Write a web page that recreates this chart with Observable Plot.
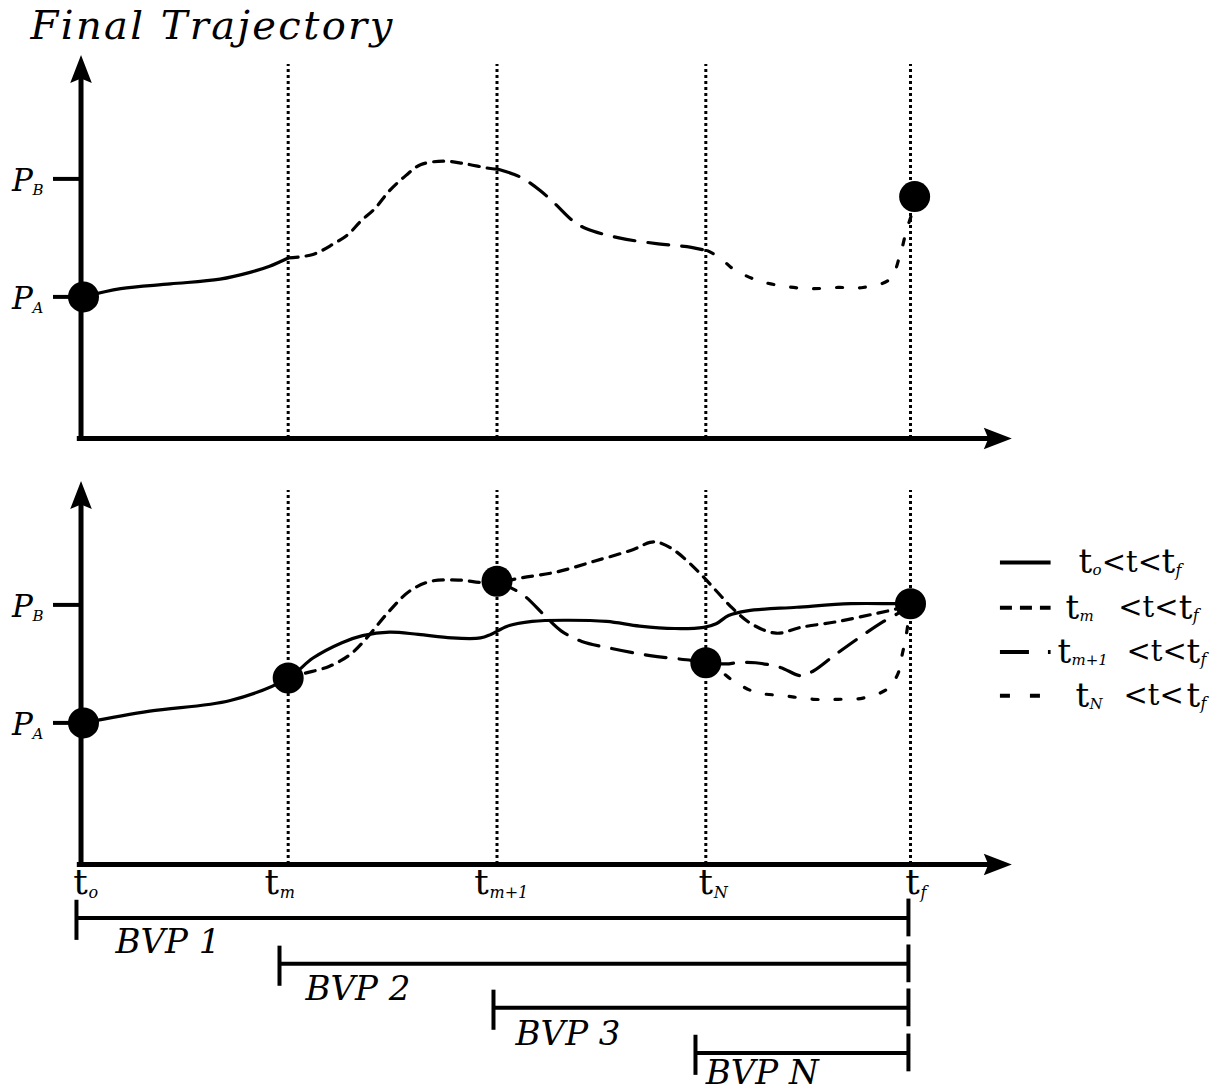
<!DOCTYPE html>
<html><head><meta charset="utf-8">
<script src="https://cdn.jsdelivr.net/npm/d3@7"></script>
<script src="https://cdn.jsdelivr.net/npm/@observablehq/plot@0.6"></script>
<style>
body{margin:0;background:#fff}
svg{display:block}
</style>
</head><body><div id="chart"></div>
<script>
// ---- data (t in units of the time grid, P in units where P_A = 1, P_B = 2) ----
const titleText = "Final Trajectory";
const panels = ["top", "bottom"];
const guideT = [0.99, 2.0, 3.01, 4.0];           // t_m, t_m+1, t_N, t_f guides
const axisT = -0.012;
const pTicks = [1, 2];
const pTickSub = ["A", "B"];
const tickLabelT = [-0.015, 0.91, 1.925, 3.01, 4.01];
const tickLabelSub = ["o", "m", "m+1", "N", "f"];

// top panel: final trajectory
const topFullT = [0, 0.18, 0.42, 0.66, 0.81, 0.90, 0.99];
const topFullP = [1.00, 1.07, 1.11, 1.15, 1.21, 1.26, 1.33];
const topTmT = [0.99, 1.11, 1.21, 1.28, 1.34, 1.41, 1.48, 1.56, 1.63, 1.74, 1.84, 1.96, 2.01];
const topTmP = [1.33, 1.36, 1.45, 1.53, 1.64, 1.75, 1.90, 2.03, 2.12, 2.15, 2.13, 2.09, 2.08];
const topTm1T = [2.01, 2.08, 2.13, 2.21, 2.28, 2.37, 2.43, 2.59, 2.78, 2.94, 3.02];
const topTm1P = [2.08, 2.04, 2.00, 1.90, 1.79, 1.64, 1.58, 1.50, 1.45, 1.42, 1.39];
const topTNT = [3.02, 3.08, 3.14, 3.26, 3.39, 3.52, 3.65, 3.77, 3.90, 3.95, 3.98, 4.01, 4.02];
const topTNP = [1.39, 1.33, 1.24, 1.14, 1.09, 1.07, 1.08, 1.08, 1.15, 1.36, 1.56, 1.73, 1.85];
const topDotT = [0, 4.02];
const topDotP = [1.0, 1.85];

// bottom panel: the BVP solutions
const botFullT = [0, 0.32, 0.71, 0.99, 1.11, 1.25, 1.35, 1.48, 1.62, 1.78, 1.92, 1.97, 2.05, 2.17, 2.33, 2.53, 2.69, 2.86, 3.00, 3.06, 3.12, 3.21, 3.45, 3.71, 3.92, 4.0];
const botFullP = [1.00, 1.10, 1.19, 1.38, 1.55, 1.68, 1.74, 1.77, 1.75, 1.72, 1.72, 1.75, 1.82, 1.86, 1.87, 1.86, 1.82, 1.80, 1.81, 1.84, 1.91, 1.95, 1.98, 2.01, 2.01, 2.01];
const botTmT = [0.99, 1.07, 1.19, 1.29, 1.37, 1.48, 1.58, 1.68, 1.82, 1.92, 2.00, 2.12, 2.29, 2.47, 2.66, 2.74, 2.78, 2.86, 2.98, 3.06, 3.14, 3.23, 3.35, 3.47, 3.65, 3.84, 3.94, 4.0];
const botTmP = [1.38, 1.42, 1.48, 1.58, 1.72, 1.95, 2.12, 2.20, 2.21, 2.19, 2.19, 2.23, 2.28, 2.37, 2.47, 2.53, 2.53, 2.46, 2.27, 2.12, 1.97, 1.84, 1.76, 1.81, 1.86, 1.93, 1.97, 2.01];
const botTm1T = [2.0, 2.05, 2.13, 2.23, 2.31, 2.41, 2.53, 2.74, 2.94, 3.01, 3.11, 3.16, 3.25, 3.37, 3.47, 3.53, 3.63, 3.75, 3.87, 3.96, 4.0];
const botTm1P = [2.20, 2.16, 2.08, 1.91, 1.78, 1.69, 1.64, 1.57, 1.53, 1.51, 1.50, 1.51, 1.51, 1.47, 1.40, 1.44, 1.57, 1.72, 1.86, 1.95, 2.01];
const botTNT = [3.01, 3.08, 3.14, 3.25, 3.39, 3.53, 3.65, 3.77, 3.89, 3.94, 3.96, 3.98, 4.0];
const botTNP = [1.51, 1.44, 1.36, 1.26, 1.23, 1.20, 1.20, 1.21, 1.29, 1.42, 1.58, 1.75, 2.01];
const botDotT = [0, 0.99, 2.0, 3.01, 4.0];
const botDotP = [1.0, 1.38, 2.20, 1.51, 2.01];

// legend
const legendSeries = ["full", "tm", "tm1", "tN"];
const legendP = [2.36, 1.975, 1.60, 1.23];
const legendSub = ["o", "m", "m+1", "N"];
const legendTStart = [4.813, 4.750, 4.711, 4.798];
const legendLtStart = [4.925, 5.005, 5.045, 5.030];
const legendFinalT = [5.214, 5.298, 5.335, 5.335];

// BVP intervals
const bvpLabels = ["BVP 1", "BVP 2", "BVP 3", "BVP N"];
const bvpStart = [-0.034, 0.948, 1.983, 2.96];
const bvpEnd = [3.99, 3.99, 3.99, 3.99];
const bvpLevel = [-0.653, -1.042, -1.415, -1.797];
const bvpLabelT = [0.155, 1.074, 2.09, 3.01];
const bvpLabelP = [-0.86, -1.26, -1.64, -1.965];

// ---- build ----
const serif = "'DejaVu Serif', serif";
const rows = (T, P, panel) => T.map((t, i) => ({t, P: P[i], panel}));
const dash = {full: {}, tm: {strokeDasharray: "10,8"}, tm1: {strokeDasharray: "21,13"}, tN: {strokeDasharray: "6,17"}};
const legendDash = {full: {}, tm: {strokeDasharray: "12,8"}, tm1: {strokeDasharray: "29,19"}, tN: {strokeDasharray: "10,20"}};
const curves = [
  ["full", rows(topFullT, topFullP, "top")],
  ["tm", rows(topTmT, topTmP, "top")],
  ["tm1", rows(topTm1T, topTm1P, "top")],
  ["tN", rows(topTNT, topTNP, "top")],
  ["full", rows(botFullT, botFullP, "bottom")],
  ["tm", rows(botTmT, botTmP, "bottom")],
  ["tm1", rows(botTm1T, botTm1P, "bottom")],
  ["tN", rows(botTNT, botTNP, "bottom")]
];
const dots = [...rows(topDotT, topDotP, "top"), ...rows(botDotT, botDotP, "bottom")];
const bvp = bvpLabels.map((label, i) => ({label, start: bvpStart[i], end: bvpEnd[i], level: bvpLevel[i], lt: bvpLabelT[i], lp: bvpLabelP[i]}));

const arrowHead = {
  draw(ctx) {
    ctx.moveTo(0, 0);
    ctx.lineTo(10.8, 28);
    ctx.lineTo(0, 23.5);
    ctx.lineTo(-10.8, 28);
    ctx.closePath();
  }
};
const inBottom = () => "bottom";
const inTop = () => "top";

const marks = [
  // guides
  Plot.ruleX(guideT, {x: d => d, y1: -0.2, y2: 2.97, stroke: "black", strokeWidth: 3, strokeDasharray: "3,3"}),
  // axes
  Plot.ruleX([axisT], {x: d => d, y1: -0.225, y2: 2.87, stroke: "black", strokeWidth: 5}),
  Plot.ruleY([-0.2], {y: d => d, x1: -0.03, x2: 4.42, stroke: "black", strokeWidth: 5}),
  Plot.dot([3.05], {x: () => axisT, y: d => d, symbol: arrowHead, fill: "black", stroke: "none"}),
  Plot.dot([4.49], {x: d => d, y: () => -0.2, symbol: arrowHead, rotate: 90, fill: "black", stroke: "none"}),
  // y ticks & labels
  Plot.ruleY(pTicks, {y: d => d, x1: -0.145, x2: axisT, stroke: "black", strokeWidth: 4}),
  Plot.text(pTicks, {x: () => -0.295, y: d => d, text: () => "P", fontFamily: serif, fontStyle: "italic", fontSize: 31, dy: 2}),
  Plot.text(pTicks, {x: () => -0.295, y: d => d, text: (d, i) => pTickSub[i], fontFamily: serif, fontStyle: "italic", fontSize: 15, textAnchor: "start", dx: 10, dy: 11}),
  // curves
  ...curves.map(([s, data]) => Plot.line(data, {x: "t", y: "P", fy: "panel", curve: "catmull-rom", stroke: "black", strokeWidth: 3.2, ...dash[s]})),
  Plot.dot(dots, {x: "t", y: "P", fy: "panel", r: 15.5, fill: "black", stroke: "none"}),
  // title
  Plot.text([titleText], {x: () => -0.256, y: () => 3.29, fy: inTop, text: d => d, textAnchor: "start", fontFamily: serif, fontStyle: "italic", fontSize: 40}),
  // x tick labels
  Plot.text(tickLabelT, {x: d => d, y: () => -0.355, fy: inBottom, text: () => "t", fontFamily: serif, fontSize: 36}),
  Plot.text(tickLabelT, {x: d => d, y: () => -0.44, fy: inBottom, text: (d, i) => tickLabelSub[i], fontFamily: serif, fontStyle: "italic", fontSize: 16, textAnchor: "start", dx: 8}),
  // legend
  ...legendSeries.map((s, i) => Plot.ruleY([legendP[i]], {y: d => d, x1: 4.435, x2: 4.68, fy: inBottom, stroke: "black", strokeWidth: 4, ...legendDash[s]})),
  Plot.text(legendP, {x: (d, i) => legendTStart[i], y: d => d, fy: inBottom, text: () => "t", textAnchor: "start", fontFamily: serif, fontSize: 34}),
  Plot.text(legendP, {x: (d, i) => legendTStart[i], y: d => d, fy: inBottom, text: (d, i) => legendSub[i], textAnchor: "start", fontFamily: serif, fontStyle: "italic", fontSize: 15, dx: 14, dy: 8}),
  Plot.text(legendP, {x: (d, i) => legendLtStart[i], y: d => d, fy: inBottom, text: () => "<t<", textAnchor: "start", fontFamily: serif, fontSize: 29}),
  Plot.text(legendP, {x: (d, i) => legendFinalT[i], y: d => d, fy: inBottom, text: () => "t", textAnchor: "start", fontFamily: serif, fontSize: 34}),
  Plot.text(legendP, {x: (d, i) => legendFinalT[i], y: d => d, fy: inBottom, text: () => "f", textAnchor: "start", fontFamily: serif, fontStyle: "italic", fontSize: 16, dx: 14, dy: 8}),
  // BVP intervals
  Plot.ruleY(bvp, {y: "level", x1: "start", x2: "end", fy: inBottom, stroke: "black", strokeWidth: 4}),
  Plot.ruleX(bvp, {x: "start", y1: d => d.level + 0.15, y2: d => d.level - 0.19, fy: inBottom, stroke: "black", strokeWidth: 4}),
  Plot.ruleX(bvp, {x: "end", y1: d => d.level + 0.16, y2: d => d.level - 0.16, fy: inBottom, stroke: "black", strokeWidth: 4}),
  Plot.text(bvp, {x: "lt", y: "lp", fy: inBottom, text: "label", textAnchor: "start", fontFamily: serif, fontStyle: "italic", fontSize: 34})
];

const chart = Plot.plot({
  width: 1227,
  height: 1091,
  marginLeft: 83,
  marginRight: 317,
  marginTop: 48.6,
  marginBottom: 227,
  x: {domain: [0, 4], axis: null},
  y: {domain: [-0.2, 3.1], axis: null},
  fy: {domain: panels, axis: null, paddingInner: 0.08592, paddingOuter: 0, round: false},
  style: {background: "white", color: "black", overflow: "visible"},
  marks
});
// widen the calligraphic-style title like the original
d3.select(chart).selectAll("text")
  .filter(function() { return this.textContent === titleText; })
  .attr("letter-spacing", 2.4);
document.getElementById("chart").appendChild(chart);
</script>
</body></html>
